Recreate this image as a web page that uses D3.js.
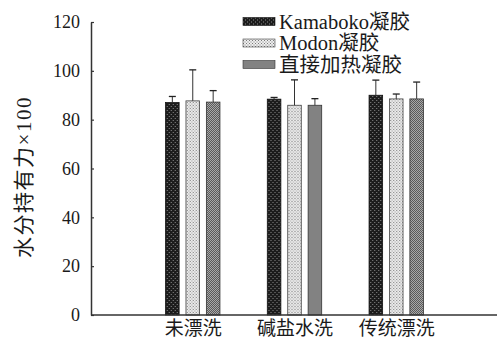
<!DOCTYPE html>
<html>
<head>
<meta charset="utf-8">
<script src="https://cdn.jsdelivr.net/npm/d3@7"></script>
<style>
  html, body { margin: 0; padding: 0; background: #fff; }
  svg { display: block; }
  text { font-family: "Liberation Serif", "Noto Sans CJK SC", serif; fill: #1a1a1a; }
</style>
</head>
<body>
<svg id="chart" width="497" height="343"></svg>
<script>
// Washing methods along the x axis
const categories = ["未漂洗", "碱盐水洗", "传统漂洗"];
// Gel types (legend entries)
const seriesNames = ["Kamaboko凝胶", "Modon凝胶", "直接加热凝胶"];
// Mean water-holding capacity (×100) per gel type, one value per washing method
const kamaboko = [87.0, 88.4, 90.0];
const modon    = [87.7, 85.9, 88.5];
const direct   = [87.2, 85.9, 88.5];
// Upper error (standard deviation) per gel type
const kamabokoErr = [2.5, 0.7, 6.2];
const modonErr    = [12.7, 10.4, 2.0];
const directErr   = [4.7, 2.7, 6.9];
// Y axis ticks
const yTicks = [0, 20, 40, 60, 80, 100, 120];

const seriesValues = [kamaboko, modon, direct];
const seriesErrors = [kamabokoErr, modonErr, directErr];

const svg = d3.select("#chart");
const plotLeft = 91, plotRight = 498, plotTop = 22, plotBottom = 315;

// Fill patterns for the three gel types
const defs = svg.append("defs");
function dotPattern(id, bg, dot, size) {
  const p = defs.append("pattern").attr("id", id)
    .attr("patternUnits", "userSpaceOnUse").attr("width", size).attr("height", size);
  p.append("rect").attr("width", size).attr("height", size).attr("fill", bg);
  p.append("rect").attr("x", 0).attr("y", 0).attr("width", 1).attr("height", 1).attr("fill", dot);
  p.append("rect").attr("x", size / 2).attr("y", size / 2).attr("width", 1).attr("height", 1).attr("fill", dot);
}
dotPattern("pat0", "#1c1c1c", "#8a8a8a", 4);
dotPattern("pat1", "#eeeeee", "#7a7a7a", 3);
// checker pattern for the third series
(function () {
  const p = defs.append("pattern").attr("id", "pat2")
    .attr("patternUnits", "userSpaceOnUse").attr("width", 2).attr("height", 2);
  p.append("rect").attr("width", 2).attr("height", 2).attr("fill", "#d0d0d0");
  p.append("rect").attr("x", 0).attr("y", 0).attr("width", 1).attr("height", 1).attr("fill", "#333");
  p.append("rect").attr("x", 1).attr("y", 1).attr("width", 1).attr("height", 1).attr("fill", "#333");
})();
const fills = ["url(#pat0)", "url(#pat1)", "url(#pat2)"];
const strokes = ["#111", "#444", "#333"];

const x = d3.scalePoint().domain(categories).range([plotLeft, plotRight]).padding(1);
const inner = d3.scaleBand().domain(d3.range(seriesNames.length))
  .range([-27.2, 27.2]).paddingInner(0.335).paddingOuter(0);
const y = d3.scaleLinear().domain([0, 120]).range([plotBottom, plotTop]);

// Bars and error bars
categories.forEach((cat, ci) => {
  const g = svg.append("g").attr("transform", `translate(${x(cat)},0)`);
  seriesValues.forEach((vals, si) => {
    const v = vals[ci], e = seriesErrors[si][ci];
    const bx = inner(si), bw = inner.bandwidth();
    g.append("rect")
      .attr("x", bx).attr("y", y(v))
      .attr("width", bw).attr("height", y(0) - y(v))
      .attr("fill", fills[si]).attr("stroke", strokes[si]).attr("stroke-width", 0.8);
    const cx = bx + bw / 2;
    g.append("line").attr("x1", cx).attr("x2", cx)
      .attr("y1", y(v)).attr("y2", y(v + e))
      .attr("stroke", "#333").attr("stroke-width", 1);
    g.append("line").attr("x1", cx - 3.5).attr("x2", cx + 3.5)
      .attr("y1", y(v + e)).attr("y2", y(v + e))
      .attr("stroke", "#222").attr("stroke-width", 1.3);
  });
});

// Y axis with short inward ticks
const yAxis = svg.append("g").attr("transform", `translate(${plotLeft},0)`)
  .call(d3.axisLeft(y).tickValues(yTicks).tickSizeInner(-3).tickSizeOuter(0).tickPadding(11));
yAxis.select(".domain").attr("stroke", "#333").attr("stroke-width", 1.5);
yAxis.selectAll(".tick line").attr("stroke", "#333").attr("stroke-width", 1.2);
yAxis.selectAll(".tick text").attr("font-size", 18)
  .style("font-family", "'Liberation Serif', serif").attr("fill", "#1a1a1a");

// X axis: baseline and category labels
const xAxis = svg.append("g").attr("transform", `translate(0,${plotBottom})`)
  .call(d3.axisBottom(x).tickSize(0).tickPadding(6));
xAxis.select(".domain").attr("d", `M${plotLeft},0H497`).attr("stroke", "#333").attr("stroke-width", 1.5);
xAxis.selectAll(".tick text").attr("font-size", 19)
  .style("font-family", "'Noto Sans CJK SC', sans-serif").attr("fill", "#1a1a1a");

// Y axis title
svg.append("text")
  .attr("transform", `translate(31,177) rotate(-90)`)
  .attr("text-anchor", "middle")
  .attr("font-size", 21)
  .attr("letter-spacing", 1.5)
  .text("水分持有力×100");

// Legend
const legend = svg.append("g").attr("transform", "translate(243,21.5)");
seriesNames.forEach((name, i) => {
  const row = legend.append("g").attr("transform", `translate(0,${i * 21.5})`);
  row.append("rect").attr("x", 0).attr("y", -4).attr("width", 32).attr("height", 8)
    .attr("fill", fills[i]).attr("stroke", strokes[i]).attr("stroke-width", 0.6);
  row.append("text").attr("x", 36).attr("y", 0).attr("dy", "0.36em")
    .attr("font-size", 20.5).text(name);
});
</script>
</body>
</html>
